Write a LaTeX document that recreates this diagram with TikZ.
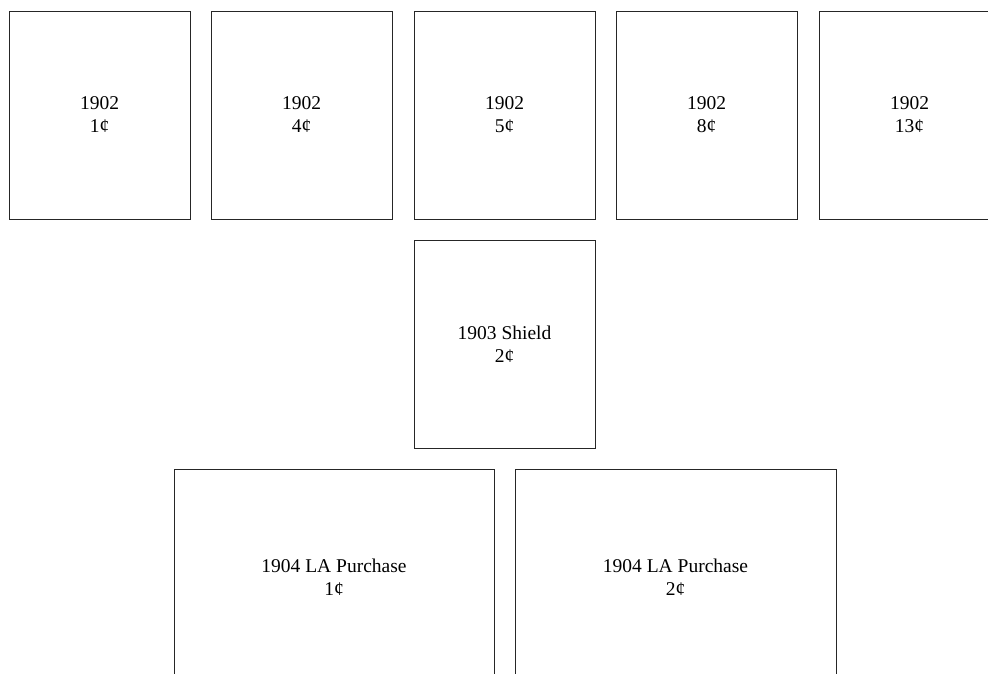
\documentclass[tikz,border=0pt]{standalone}
\usepackage{fontspec}
\setmainfont{Liberation Serif}
\begin{document}
\begin{tikzpicture}[x=1pt,y=-1pt,
  stamp/.style={draw=black!85,line width=0.9pt,align=center,inner sep=0pt,
    font=\fontsize{19.5}{23}\selectfont,anchor=center}]
\useasboundingbox (0,0) rectangle (988,673);
\clip (0,0) rectangle (988,673);
\fill[white] (0,0) rectangle (988,673);
\node[stamp,minimum width=181pt,minimum height=208pt] (a1) at (99.5,115) {1902\\1¢};
\node[stamp,minimum width=181pt,minimum height=208pt] (a2) at (301.5,115) {1902\\4¢};
\node[stamp,minimum width=181pt,minimum height=208pt] (a3) at (504.5,115) {1902\\5¢};
\node[stamp,minimum width=181pt,minimum height=208pt] (a4) at (706.5,115) {1902\\8¢};
\node[stamp,minimum width=181pt,minimum height=208pt] (a5) at (909.5,115) {1902\\13¢};
\node[stamp,minimum width=181pt,minimum height=208pt] (b1) at (504.5,344) {1903 Shield\\2¢};
\node[stamp,minimum width=320pt,minimum height=216pt] (c1) at (334,577) {1904 LA Purchase\\1¢};
\node[stamp,minimum width=321pt,minimum height=216pt] (c2) at (675.5,577) {1904 LA Purchase\\2¢};
\end{tikzpicture}
\end{document}
